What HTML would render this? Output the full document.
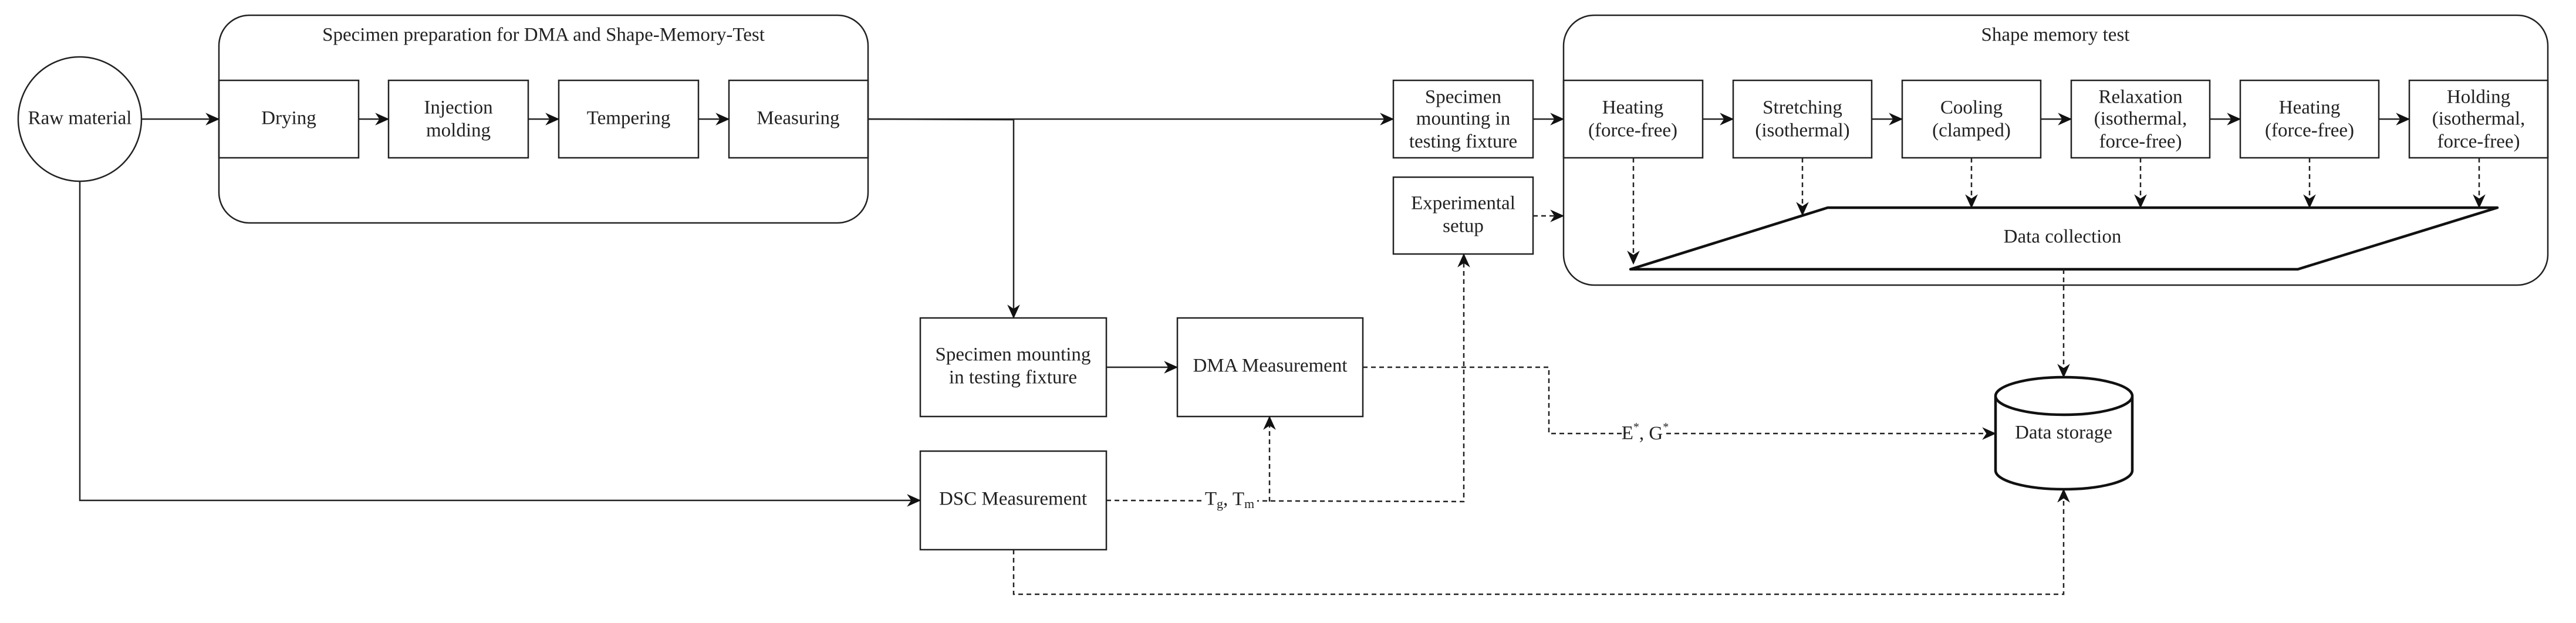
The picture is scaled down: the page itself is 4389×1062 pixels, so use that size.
<!DOCTYPE html>
<html><head><meta charset="utf-8"><style>
html,body{margin:0;padding:0;background:#fff;}
svg{display:block;}
text{font-family:"Liberation Serif",serif;font-size:33px;fill:#222;text-anchor:middle;dominant-baseline:middle;}
</style></head><body>
<svg width="4389" height="1062" viewBox="0 0 4389 1062" xmlns="http://www.w3.org/2000/svg">
<defs>
<marker id="a" viewBox="0 0 20 20" refX="19" refY="10" markerWidth="24" markerHeight="24" markerUnits="userSpaceOnUse" orient="auto">
<path d="M0,1 L20,10 L0,19 L6,10 Z" fill="#111"/>
</marker>
</defs>
<g fill="none" stroke="#222" stroke-width="2.5">
<rect x="373" y="26" width="1106" height="354" rx="52" ry="52"/>
<rect x="2664" y="26" width="1677" height="460" rx="52" ry="52"/>
<ellipse cx="136" cy="203" rx="105" ry="106"/>
<rect x="373" y="137" width="238" height="132"/>
<rect x="662" y="137" width="238" height="132"/>
<rect x="952" y="137" width="238" height="132"/>
<rect x="1242" y="137" width="237" height="132"/>
<rect x="2374" y="137" width="238" height="132"/>
<rect x="2374" y="302" width="238" height="131"/>
<rect x="1568" y="542" width="317" height="168"/>
<rect x="2006" y="542" width="316" height="168"/>
<rect x="1568" y="769" width="317" height="168"/>
<rect x="2664" y="137" width="237" height="132"/>
<rect x="2953" y="137" width="236" height="132"/>
<rect x="3241" y="137" width="236" height="132"/>
<rect x="3529" y="137" width="236" height="132"/>
<rect x="3817" y="137" width="236" height="132"/>
<rect x="4105" y="137" width="236" height="132"/>
</g>
<g fill="none" stroke="#111" stroke-width="4.5" stroke-linejoin="round">
<polygon points="3114,354 4255,354 3915,459 2778,459" fill="#fff"/>
<path d="M3400,675 L3400,802 A116.5,32 0 0 0 3633,802 L3633,675 A116.5,32 0 0 0 3400,675 A116.5,32 0 0 0 3633,675"/>
</g>
<g fill="none" stroke="#222" stroke-width="2.5">
<line x1="241" y1="203" x2="373" y2="203" marker-end="url(#a)"/>
<line x1="611" y1="203" x2="662" y2="203" marker-end="url(#a)"/>
<line x1="900" y1="203" x2="952" y2="203" marker-end="url(#a)"/>
<line x1="1190" y1="203" x2="1242" y2="203" marker-end="url(#a)"/>
<line x1="1479" y1="203" x2="2374" y2="203" marker-end="url(#a)"/>
<polyline points="1479,203 1727,204 1727,542" marker-end="url(#a)"/>
<line x1="1885" y1="626" x2="2006" y2="626" marker-end="url(#a)"/>
<polyline points="136,309 136,853 1568,853" marker-end="url(#a)"/>
<line x1="2612" y1="203" x2="2664" y2="203" marker-end="url(#a)"/>
<line x1="2901" y1="203" x2="2953" y2="203" marker-end="url(#a)"/>
<line x1="3189" y1="203" x2="3241" y2="203" marker-end="url(#a)"/>
<line x1="3477" y1="203" x2="3529" y2="203" marker-end="url(#a)"/>
<line x1="3765" y1="203" x2="3817" y2="203" marker-end="url(#a)"/>
<line x1="4053" y1="203" x2="4105" y2="203" marker-end="url(#a)"/>
</g>
<g fill="none" stroke="#222" stroke-width="2.5" stroke-dasharray="8,6">
<line x1="2612" y1="368" x2="2664" y2="368" marker-end="url(#a)"/>
<line x1="2783" y1="269" x2="2783" y2="450" marker-end="url(#a)"/>
<line x1="3071" y1="269" x2="3071" y2="367" marker-end="url(#a)"/>
<line x1="3359" y1="269" x2="3359" y2="354" marker-end="url(#a)"/>
<line x1="3647" y1="269" x2="3647" y2="354" marker-end="url(#a)"/>
<line x1="3935" y1="269" x2="3935" y2="354" marker-end="url(#a)"/>
<line x1="4224" y1="269" x2="4224" y2="354" marker-end="url(#a)"/>
<line x1="3516" y1="459" x2="3516" y2="643" marker-end="url(#a)"/>
<polyline points="2322,626 2639,626 2639,739 3400,739" marker-end="url(#a)"/>
<polyline points="1885,853 2494,855 2494,433" marker-end="url(#a)"/>
<polyline points="2163,855 2163,710" marker-end="url(#a)"/>
<polyline points="1727,937 1727,1013 3516,1013 3516,834" marker-end="url(#a)"/>
</g>
<rect x="2048" y="836" width="94" height="40" fill="#fff"/>
<rect x="2770" y="722" width="66" height="36" fill="#fff"/>
<text x="136" y="204">Raw material</text>
<text x="926" y="62">Specimen preparation for DMA and Shape-Memory-Test</text>
<text x="492" y="204">Drying</text>
<text x="781" y="186">Injection</text><text x="781" y="225">molding</text>
<text x="1071" y="204">Tempering</text>
<text x="1360" y="204">Measuring</text>
<text x="2493" y="168">Specimen</text><text x="2493" y="205">mounting in</text><text x="2493" y="244">testing fixture</text>
<text x="2493" y="349">Experimental</text><text x="2493" y="388">setup</text>
<text x="1726" y="607">Specimen mounting</text><text x="1726" y="646">in testing fixture</text>
<text x="2164" y="626">DMA Measurement</text>
<text x="1726" y="853">DSC Measurement</text>
<text x="3502" y="62">Shape memory test</text>
<text x="2782" y="186">Heating</text><text x="2782" y="225">(force-free)</text>
<text x="3071" y="186">Stretching</text><text x="3071" y="225">(isothermal)</text>
<text x="3359" y="186">Cooling</text><text x="3359" y="225">(clamped)</text>
<text x="3647" y="168">Relaxation</text><text x="3647" y="205">(isothermal,</text><text x="3647" y="244">force-free)</text>
<text x="3935" y="186">Heating</text><text x="3935" y="225">(force-free)</text>
<text x="4223" y="168">Holding</text><text x="4223" y="205">(isothermal,</text><text x="4223" y="244">force-free)</text>
<text x="3514" y="406">Data collection</text>
<text x="3516" y="740">Data storage</text>
<text x="2095" y="853">T<tspan font-size="22" dy="8">g</tspan><tspan dy="-8">, T</tspan><tspan font-size="22" dy="8">m</tspan></text>
<text x="2803" y="741">E<tspan font-size="20" dy="-12">*</tspan><tspan dy="12">, G</tspan><tspan font-size="20" dy="-12">*</tspan></text>
</svg>
</body></html>
